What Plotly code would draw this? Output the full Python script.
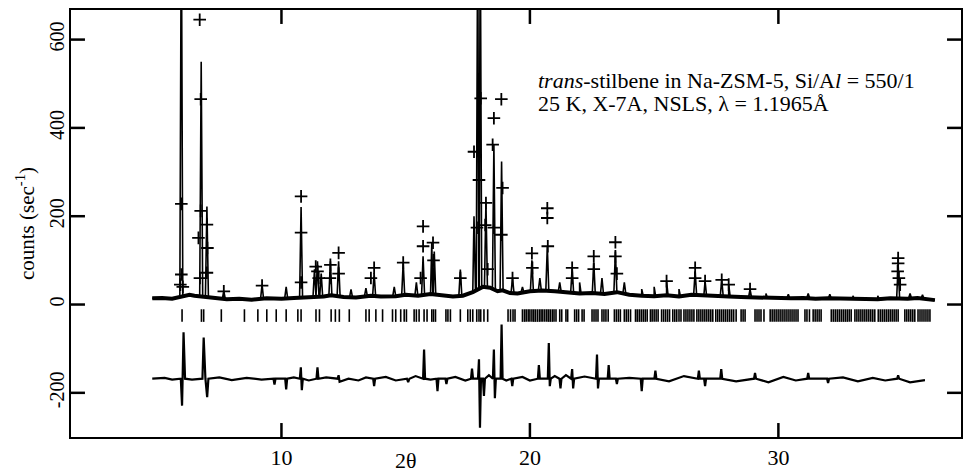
import numpy as np
import plotly.graph_objects as go

# ---------------- data ----------------
x_tick_vals = [10, 20, 30]
y_tick_vals = [-200, 0, 200, 400, 600]
y_tick_text = ["-200", "0", "200", "400", "600"]

# background (dense observed points along the baseline)
bg_2theta = [4.8, 5.2, 5.6, 6.3, 6.5, 7.3, 7.8, 8.3, 8.8, 9.4, 10.0, 10.5, 11.0, 11.7, 12.0, 12.5,
             13.0, 13.6, 14.0, 14.6, 15.0, 15.5, 16.0, 16.5, 16.9, 17.3, 17.7, 18.1, 18.4, 18.7,
             18.9, 19.2, 19.5, 20.0, 20.5, 21.0, 21.5, 22.0, 22.5, 23.0, 23.5, 24.0, 24.5, 25.0,
             25.5, 26.0, 26.5, 27.0, 27.5, 28.0, 28.5, 29.0, 29.5, 30.0, 30.5, 31.0, 31.5, 32.0,
             32.5, 33.0, 33.5, 34.0, 34.5, 35.2, 35.6, 36.0, 36.3]
bg_counts = [14, 15, 13, 22, 20, 16, 12, 13, 11, 14, 13, 15, 16, 18, 21, 17,
             16, 20, 18, 19, 22, 20, 24, 21, 18, 20, 28, 40, 38, 30,
             32, 26, 25, 30, 32, 30, 27, 25, 26, 24, 28, 22, 20, 19,
             21, 18, 22, 20, 19, 18, 17, 16, 15, 15, 14, 15, 13, 14,
             13, 12, 13, 12, 14, 13, 15, 11, 10]

# calculated profile peaks (2theta, counts at top)
peak_2theta = [5.97, 6.77, 7.00, 7.68, 9.22, 10.19, 10.79, 11.33, 11.45, 11.60, 11.97, 12.30, 12.80,
               13.40, 13.73, 14.54, 14.90, 15.43, 15.70, 16.05, 16.15, 17.20, 17.75, 17.90, 18.00,
               18.23, 18.55, 18.86, 19.30, 19.70, 20.08, 20.40, 20.70, 21.20, 21.70, 22.00, 22.57,
               22.90, 23.44, 23.80, 24.50, 25.00, 25.50, 26.00, 26.65, 27.05, 27.72, 28.00, 28.86,
               29.50, 30.40, 31.20, 32.07, 33.00, 34.00, 34.82, 35.30, 35.80]
peak_counts = [900, 550, 222, 30, 45, 40, 221, 80, 98, 70, 98, 98, 34,
               37, 71, 40, 95, 50, 109, 140, 120, 79, 200, 900, 900,
               233, 362, 324, 60, 40, 100, 60, 132, 50, 83, 50, 95,
               60, 120, 50, 35, 40, 53, 35, 75, 53, 56, 45, 35,
               25, 23, 25, 23, 20, 20, 90, 25, 22]

# observed points drawn as crosses
obs_2theta = [5.97, 5.97, 5.93, 6.03, 6.71, 6.75, 6.75, 6.66, 6.72, 7.00, 7.02, 7.00, 7.68, 9.22,
              10.79, 10.79, 10.79, 11.38, 11.45, 11.50, 11.97, 11.95, 12.30, 12.30, 13.73, 13.60,
              14.90, 15.70, 15.70, 15.60, 16.10, 16.12, 17.20, 17.75, 17.87, 17.95, 18.02, 18.23,
              18.20, 18.55, 18.50, 18.55, 18.85, 18.90, 18.85, 18.30, 19.30, 20.08, 20.10, 20.70,
              20.70, 20.72, 21.70, 21.70, 22.57, 22.57, 23.44, 23.44, 23.50, 25.50, 26.65, 26.65,
              27.05, 27.72, 28.00, 28.86, 34.82, 34.82, 34.80, 34.85, 34.90]
obs_counts = [228, 68, 45, 40, 645, 465, 212, 151, 60, 181, 128, 72, 30, 43,
              245, 163, 50, 86, 75, 60, 90, 60, 117, 70, 83, 60,
              95, 177, 132, 60, 140, 100, 60, 346, 174, 282, 467, 230,
              180, 422, 362, 174, 465, 264, 158, 80, 60, 116, 83, 218,
              196, 132, 83, 60, 109, 80, 141, 109, 70, 53, 83, 60,
              53, 56, 45, 35, 105, 93, 75, 60, 45]

# reflection positions
refl_2theta = [6.00, 6.78, 6.87, 7.58, 8.51, 9.05, 9.41, 9.79, 10.19, 10.66, 10.79, 11.39, 11.53,
               12.00, 12.17, 12.33, 12.73, 13.40, 13.53, 13.80, 14.07, 14.47, 14.60, 14.80, 14.94,
               15.03, 15.34, 15.43, 15.54, 15.74, 15.86, 16.05, 16.12, 16.20, 16.62, 16.70, 16.80,
               17.20, 17.50, 17.60, 17.70, 17.86, 17.95, 18.02, 18.15, 18.30, 19.12, 19.22, 19.32,
               19.40, 19.70, 19.78, 19.85, 19.93, 20.00, 20.08, 20.15, 20.22, 20.30, 20.38, 20.45,
               20.52, 20.60, 20.68, 20.75, 20.82, 20.90, 20.97, 21.05, 21.20, 21.28, 21.45, 21.52,
               21.80, 21.88, 21.96, 22.10, 22.18, 22.50, 22.58, 22.66, 22.74, 22.90, 22.98, 23.06,
               23.15, 23.40, 23.48, 23.56, 23.64, 23.80, 23.88, 23.96, 24.05, 24.25, 24.32, 24.40,
               24.48, 24.56, 24.64, 24.72, 24.85, 24.92, 25.00, 25.08, 25.16, 25.30, 25.38, 25.46,
               25.54, 25.62, 25.75, 25.83, 25.91, 26.00, 26.08, 26.20, 26.28, 26.36, 26.44, 26.52,
               26.60, 26.72, 26.80, 26.88, 26.96, 27.04, 27.12, 27.20, 27.28, 27.36, 27.48, 27.56,
               27.64, 27.72, 27.80, 27.88, 27.96, 28.04, 28.12, 28.20, 28.30, 28.50, 28.58, 28.66,
               29.06, 29.14, 29.22, 29.30, 29.42, 29.67, 29.75, 29.83, 29.91, 29.99, 30.07, 30.15,
               30.23, 30.31, 30.39, 30.47, 30.55, 30.63, 30.71, 30.79, 31.07, 31.15, 31.25, 31.40,
               31.48, 31.56, 31.64, 31.72, 32.13, 32.21, 32.29, 32.37, 32.45, 32.53, 32.61, 32.69,
               32.77, 32.85, 32.93, 33.08, 33.16, 33.24, 33.32, 33.40, 33.48, 33.56, 33.64, 33.72,
               33.80, 33.88, 34.02, 34.10, 34.18, 34.26, 34.34, 34.42, 34.50, 34.58, 34.66, 34.74,
               34.82, 35.09, 35.17, 35.25, 35.33, 35.41, 35.49, 35.62, 35.70, 35.78, 35.86, 35.94,
               36.02, 36.10]

# difference curve (obs - calc, offset)
diff_2theta = [4.80, 5.30, 5.60, 5.95, 6.00, 6.06, 6.12, 6.40, 6.82, 6.87, 6.94, 7.01, 7.06, 7.50,
               8.00, 8.60, 9.20, 9.68, 9.72, 9.76, 10.15, 10.19, 10.23, 10.50, 10.74, 10.78, 10.82,
               10.86, 11.10, 11.41, 11.45, 11.49, 11.80, 12.26, 12.30, 12.34, 12.70, 13.10, 13.40,
               13.69, 13.73, 13.77, 14.20, 14.60, 15.05, 15.10, 15.15, 15.40, 15.70, 15.74, 15.78,
               16.00, 16.24, 16.28, 16.32, 16.60, 16.64, 16.68, 17.00, 17.40, 17.63, 17.67, 17.71,
               17.91, 17.95, 17.99, 18.03, 18.11, 18.15, 18.19, 18.35, 18.51, 18.55, 18.59, 18.63,
               18.82, 18.86, 18.90, 19.05, 19.25, 19.29, 19.33, 19.70, 20.00, 20.32, 20.36, 20.40,
               20.72, 20.76, 20.80, 20.84, 21.00, 21.19, 21.23, 21.27, 21.45, 21.66, 21.70, 21.74,
               21.78, 22.20, 22.66, 22.70, 22.74, 22.78, 23.13, 23.17, 23.21, 23.46, 23.50, 23.54,
               24.00, 24.46, 24.50, 24.54, 25.01, 25.05, 25.09, 25.60, 26.20, 26.76, 26.80, 26.84,
               27.01, 27.05, 27.09, 27.66, 27.70, 27.74, 28.30, 29.02, 29.06, 29.10, 29.60, 30.20,
               30.70, 31.16, 31.20, 31.24, 31.96, 32.00, 32.04, 32.60, 33.20, 33.80, 34.30, 34.78,
               34.82, 34.86, 35.30, 35.90]
diff_counts = [-168, -166, -170, -168, -229, -63, -168, -170, -168, -75, -168, -210, -168, -165,
               -171, -166, -170, -168, -181, -168, -168, -192, -168, -165, -168, -142, -194,
               -168, -172, -168, -142, -168, -165, -168, -160, -175, -168, -172, -165,
               -168, -185, -168, -164, -172, -168, -176, -168, -162, -168, -102, -168,
               -170, -168, -196, -168, -168, -180, -168, -164, -172, -168, -145, -168,
               -168, -124, -279, -168, -168, -207, -168, -160, -168, -102, -212, -168,
               -168, -45, -168, -172, -168, -185, -168, -164, -172, -168, -137, -168,
               -168, -87, -185, -168, -162, -168, -190, -168, -160, -168, -146, -190,
               -168, -163, -168, -113, -190, -168, -168, -137, -168, -168, -180, -168,
               -166, -168, -196, -168, -168, -150, -168, -174, -162, -168, -150, -168,
               -168, -185, -168, -168, -146, -168, -174, -168, -155, -168, -176, -164,
               -172, -168, -155, -168, -168, -178, -168, -165, -174, -166, -172, -168,
               -160, -168, -176, -171]

refl_level = -25

# ---------------- build calculated polyline from the peak list ----------------
foot = 0.06
cx, cy = list(bg_2theta), list(bg_counts)
for p, h in zip(peak_2theta, peak_counts):
    b = float(np.interp(p, bg_2theta, bg_counts))
    cx += [p - foot, p, p + foot]
    cy += [b, h, b]
order = np.argsort(cx, kind="stable")
calc_x = [cx[i] for i in order]
calc_y = [cy[i] for i in order]

FONT = "Liberation Serif"
fig = go.Figure()

fig.add_trace(go.Scatter(x=bg_2theta, y=bg_counts, mode="lines",
                         line=dict(color="black", width=4), hoverinfo="skip", showlegend=False))
fig.add_trace(go.Scatter(x=calc_x, y=calc_y, mode="lines",
                         line=dict(color="black", width=1.6), showlegend=False))
fig.add_trace(go.Scatter(x=obs_2theta, y=obs_counts, mode="markers",
                         marker=dict(symbol="cross-thin", size=9,
                                     line=dict(color="black", width=1.8)),
                         showlegend=False))
fig.add_trace(go.Scatter(x=refl_2theta, y=[refl_level] * len(refl_2theta), mode="markers",
                         marker=dict(symbol="line-ns", size=9,
                                     line=dict(color="black", width=1.6)),
                         showlegend=False))
fig.add_trace(go.Scatter(x=diff_2theta, y=diff_counts, mode="lines",
                         line=dict(color="black", width=2.2), showlegend=False))

# inward tick marks on all four sides
TL_X = 14 / 428
TL_Y = 14 / 892
for v in x_tick_vals:
    for y0, y1 in ((0, TL_X), (1, 1 - TL_X)):
        fig.add_shape(type="line", xref="x", yref="paper", x0=v, x1=v, y0=y0, y1=y1,
                      layer="above", line=dict(color="black", width=2.5))
for v in y_tick_vals:
    for x0, x1 in ((0, TL_Y), (1, 1 - TL_Y)):
        fig.add_shape(type="line", xref="paper", yref="y", x0=x0, x1=x1, y0=v, y1=v,
                      layer="above", line=dict(color="black", width=2.5))

fig.add_annotation(x=0.5222, y=(438 - 95) / 428, xref="paper", yref="paper",
                   xanchor="left", yanchor="bottom", showarrow=False,
                   text="<i>trans</i>-stilbene in Na-ZSM-5, Si/A<i>l</i> = 550/1",
                   font=dict(family=FONT, size=22, color="black"))
fig.add_annotation(x=0.5222, y=(438 - 118) / 428, xref="paper", yref="paper",
                   xanchor="left", yanchor="bottom", showarrow=False,
                   text="25 K, X-7A, NSLS, λ = 1.1965Å",
                   font=dict(family=FONT, size=22, color="black"))
fig.add_annotation(x=15, y=-0.054, xref="x", yref="paper", xanchor="center", yanchor="middle",
                   showarrow=False, text="2θ", font=dict(family=FONT, size=22, color="black"))

fig.update_layout(
    width=968, height=475, margin=dict(l=71, r=5, t=10, b=37),
    paper_bgcolor="white", plot_bgcolor="white",
    font=dict(family=FONT, size=20, color="black"),
    xaxis=dict(range=[1.53, 37.35], tickvals=x_tick_vals, ticks="", showline=True, linewidth=2,
               linecolor="black", mirror=True, showgrid=False, zeroline=False,
               tickfont=dict(family=FONT, size=22)),
    yaxis=dict(range=[-300, 667], tickvals=y_tick_vals, ticktext=y_tick_text, ticks="",
               showline=True, linewidth=2, linecolor="black", mirror=True, showgrid=False,
               zeroline=False, tickangle=-90, ticklabelstandoff=-3,
               tickfont=dict(family=FONT, size=20),
               title=dict(text="counts (sec<sup>-1</sup>)", font=dict(family=FONT, size=21),
                          standoff=6)),
)

fig.write_html("out.html")
